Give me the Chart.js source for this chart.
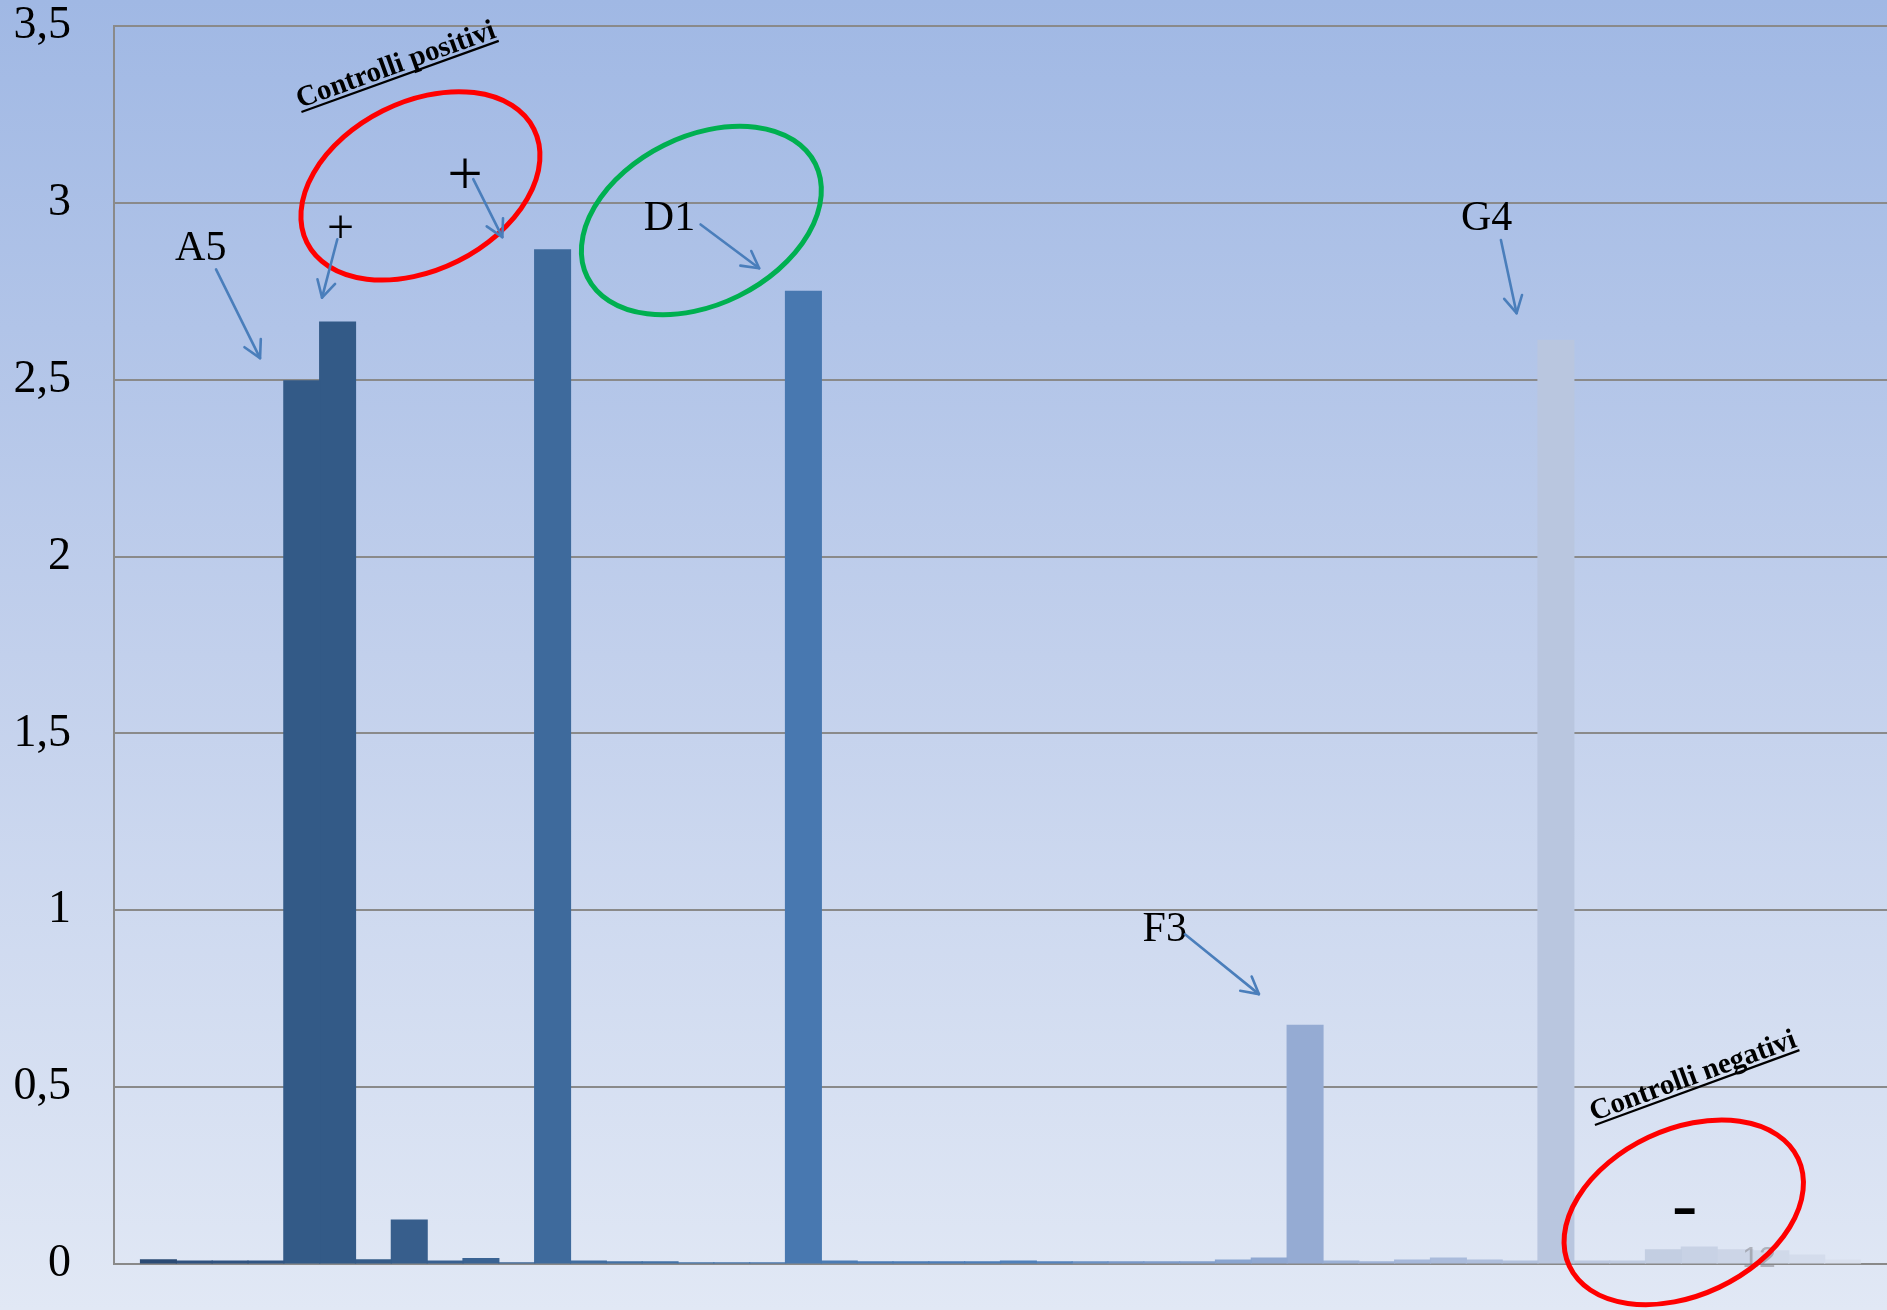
<!DOCTYPE html>
<html lang="it">
<head>
<meta charset="utf-8">
<title>Controlli positivi e negativi</title>
<script src="https://cdn.jsdelivr.net/npm/chart.js@4.4.1/dist/chart.umd.min.js"></script>
<style>
  html, body { margin: 0; padding: 0; overflow: hidden; }
  body {
    width: 1887px; height: 1310px;
    background: linear-gradient(to bottom, #a0b8e4 0%, #c2d0ec 50%, #e1e8f5 100%);
  }
  #wrap { position: relative; width: 1887px; height: 1310px; }
</style>
</head>
<body>
<div id="wrap"><canvas id="chart"></canvas></div>
<script>
// One category, one bar per well (48 wells), in plate order.
const categories = [''];

const wellValues = [
  0.012, 0.008, 0.008, 0.008, 2.497, 2.663, 0.012, 0.124,
  0.008, 0.015, 0.003, 2.867, 0.008, 0.006, 0.006, 0.003,
  0.003, 0.003, 2.750, 0.008, 0.006, 0.006, 0.006, 0.006,
  0.008, 0.006, 0.006, 0.006, 0.006, 0.006, 0.011, 0.017,
  0.675, 0.008, 0.006, 0.011, 0.017, 0.011, 0.008, 2.611,
  0.008, 0.008, 0.040, 0.048, 0.040, 0.037, 0.025, 0.011
];

const tickLabels = ['0', '0,5', '1', '1,5', '2', '2,5', '3', '3,5'];

// Monochrome blue palette, dark to light, one shade per well
const wellColors = [
  '#2b4b74', '#2f517f', '#305381', '#315583', '#335a87', '#335a87', '#355c89', '#375e8c',
  '#386090', '#3a6393', '#3c6697', '#3e6a9c', '#406da0', '#4270a4', '#4372a7', '#4574aa',
  '#4676ad', '#4777af', '#4878b0', '#4a7bb4', '#4a7bb6', '#4b7cb7', '#4c7db8', '#4d7eb9',
  '#4f80ba', '#5583bd', '#6a91c5', '#7898c9', '#7e9ccb', '#829fcc', '#8aa5d0', '#90a8d1',
  '#95abd3', '#9cb1d6', '#a1b4d8', '#a6b8da', '#aabbdb', '#aebedc', '#b2c1dd', '#b9c6df',
  '#bcc8e0', '#bfcbe1', '#c3cee2', '#c8d2e5', '#ccd5e7', '#d0d9e9', '#d4dcec', '#d9e0ee'
];

const SERIF = '"Liberation Serif", "Times New Roman", serif';
const ARROW_BLUE = '#4a7ebb';

// Map (fractional well index, value) to canvas pixels through the chart's own scales.
function anchor(chart) {
  const b0 = chart.getDatasetMeta(0).data[0];
  const b1 = chart.getDatasetMeta(1).data[0];
  const step = b1.x - b0.x;
  const ys = chart.scales.y;
  return (xi, v) => ({ x: b0.x + xi * step, y: ys.getPixelForValue(v) });
}

function arrow(ctx, a, b) {
  ctx.save();
  ctx.strokeStyle = ARROW_BLUE;
  ctx.lineWidth = 2.6;
  ctx.lineCap = 'round';
  ctx.lineJoin = 'round';
  ctx.beginPath();
  ctx.moveTo(a.x, a.y);
  ctx.lineTo(b.x, b.y);
  ctx.stroke();
  const ang = Math.atan2(b.y - a.y, b.x - a.x);
  const L = 19, s = 0.5;
  ctx.beginPath();
  ctx.moveTo(b.x - L * Math.cos(ang - s), b.y - L * Math.sin(ang - s));
  ctx.lineTo(b.x, b.y);
  ctx.lineTo(b.x - L * Math.cos(ang + s), b.y - L * Math.sin(ang + s));
  ctx.stroke();
  ctx.restore();
}

function ring(ctx, c, rx, ry, deg, color) {
  ctx.save();
  ctx.strokeStyle = color;
  ctx.lineWidth = 5;
  ctx.beginPath();
  ctx.ellipse(c.x, c.y, rx, ry, deg * Math.PI / 180, 0, Math.PI * 2);
  ctx.stroke();
  ctx.restore();
}

function label(ctx, text, p, size) {
  ctx.save();
  ctx.font = size + 'px ' + SERIF;
  ctx.fillStyle = '#000';
  ctx.textAlign = 'left';
  ctx.textBaseline = 'alphabetic';
  ctx.fillText(text, p.x, p.y);
  ctx.restore();
}

// Draw a single glyph with its ink centred on p
function glyph(ctx, ch, font, p) {
  ctx.save();
  ctx.font = font;
  ctx.fillStyle = '#000';
  ctx.textAlign = 'left';
  ctx.textBaseline = 'alphabetic';
  const m = ctx.measureText(ch);
  const x = p.x - (m.actualBoundingBoxRight - m.actualBoundingBoxLeft) / 2;
  const y = p.y + (m.actualBoundingBoxAscent - m.actualBoundingBoxDescent) / 2;
  ctx.fillText(ch, x, y);
  ctx.restore();
}

function tilted(ctx, text, o, deg) {
  ctx.save();
  ctx.translate(o.x, o.y);
  ctx.rotate(deg * Math.PI / 180);
  ctx.font = 'bold 29px ' + SERIF;
  ctx.fillStyle = '#000';
  ctx.textAlign = 'left';
  ctx.textBaseline = 'alphabetic';
  ctx.fillText(text, 0, 0);
  const w = ctx.measureText(text).width;
  ctx.fillRect(0, 3, w, 2.2);
  ctx.restore();
}

const notes = {
  id: 'notes',
  afterDatasetsDraw(chart) {
    const ctx = chart.ctx;
    const at = anchor(chart);
    const p = at(44.2, -0.0075);
    ctx.save();
    ctx.font = '30px "Liberation Sans", Arial, sans-serif';
    ctx.fillStyle = 'rgba(135,135,140,0.55)';
    ctx.fillText('12', p.x, p.y);
    ctx.restore();
  },
  afterDraw(chart) {
    const ctx = chart.ctx;
    const at = anchor(chart);

    // positive controls
    tilted(ctx, 'Controlli positivi', at(3.952, 3.268), -19.8);
    ring(ctx, at(7.312, 3.048), 126.9, 84.0, -26.6, '#ff0000');
    glyph(ctx, '+', '48px ' + SERIF, at(5.080, 2.934));
    glyph(ctx, '+', '63px ' + SERIF, at(8.565, 3.084));
    arrow(ctx, at(4.993, 2.897), at(4.566, 2.732));
    arrow(ctx, at(8.786, 3.067), at(9.598, 2.903));

    // A5
    label(ctx, 'A5', at(0.466, 2.838), 42);
    arrow(ctx, at(1.608, 2.812), at(2.836, 2.561));

    // D1
    ring(ctx, at(15.152, 2.950), 127.3, 84.1, -26.4, '#00b050');
    label(ctx, 'D1', at(13.547, 2.923), 42);
    arrow(ctx, at(15.130, 2.939), at(16.765, 2.815));

    // F3
    label(ctx, 'F3', at(27.466, 0.914), 42);
    arrow(ctx, at(28.647, 0.932), at(30.712, 0.763));

    // G4
    label(ctx, 'G4', at(36.349, 2.923), 42);
    arrow(ctx, at(37.465, 2.895), at(37.903, 2.688));

    // negative controls
    tilted(ctx, 'Controlli negativi', at(40.050, 0.404), -20.1);
    ring(ctx, at(42.567, 0.146), 126.4, 82.9, -25.2, '#ff0000');
    glyph(ctx, '-', '76px ' + SERIF, at(42.587, 0.150));
  }
};

const datasets = wellValues.map((v, i) => ({
  label: 'Pozzetto ' + (i + 1),
  data: [v],
  backgroundColor: wellColors[i],
  borderWidth: 0,
  inflateAmount: 0.6
}));

new Chart(document.getElementById('chart'), {
  type: 'bar',
  data: { labels: categories, datasets },
  plugins: [notes],
  options: {
    responsive: true,
    maintainAspectRatio: false,
    animation: false,
    devicePixelRatio: 1,
    layout: { padding: { top: 26, bottom: 46, left: 0, right: 0 } },
    plugins: {
      legend: { display: false },
      tooltip: { enabled: false },
      title: { display: false }
    },
    datasets: {
      bar: { categoryPercentage: 0.9701, barPercentage: 1 }
    },
    scales: {
      x: {
        display: true,
        grid: { display: false, drawTicks: false },
        ticks: { display: false },
        border: { display: true, color: '#898989', width: 2 },
        afterFit(s) { s.height = 0; s.paddingLeft = 0; s.paddingRight = 0; }
      },
      y: {
        min: 0,
        max: 3.5,
        ticks: {
          stepSize: 0.5,
          padding: 43,
          color: '#000',
          font: { family: SERIF, size: 46 },
          callback: (v, i) => tickLabels[i]
        },
        grid: { color: '#8a8a8a', lineWidth: 2, drawTicks: false },
        border: { color: '#8a8a8a', width: 2 },
        afterFit(s) { s.width = 114; s.paddingTop = 0; s.paddingBottom = 0; }
      }
    }
  }
});
</script>
</body>
</html>
